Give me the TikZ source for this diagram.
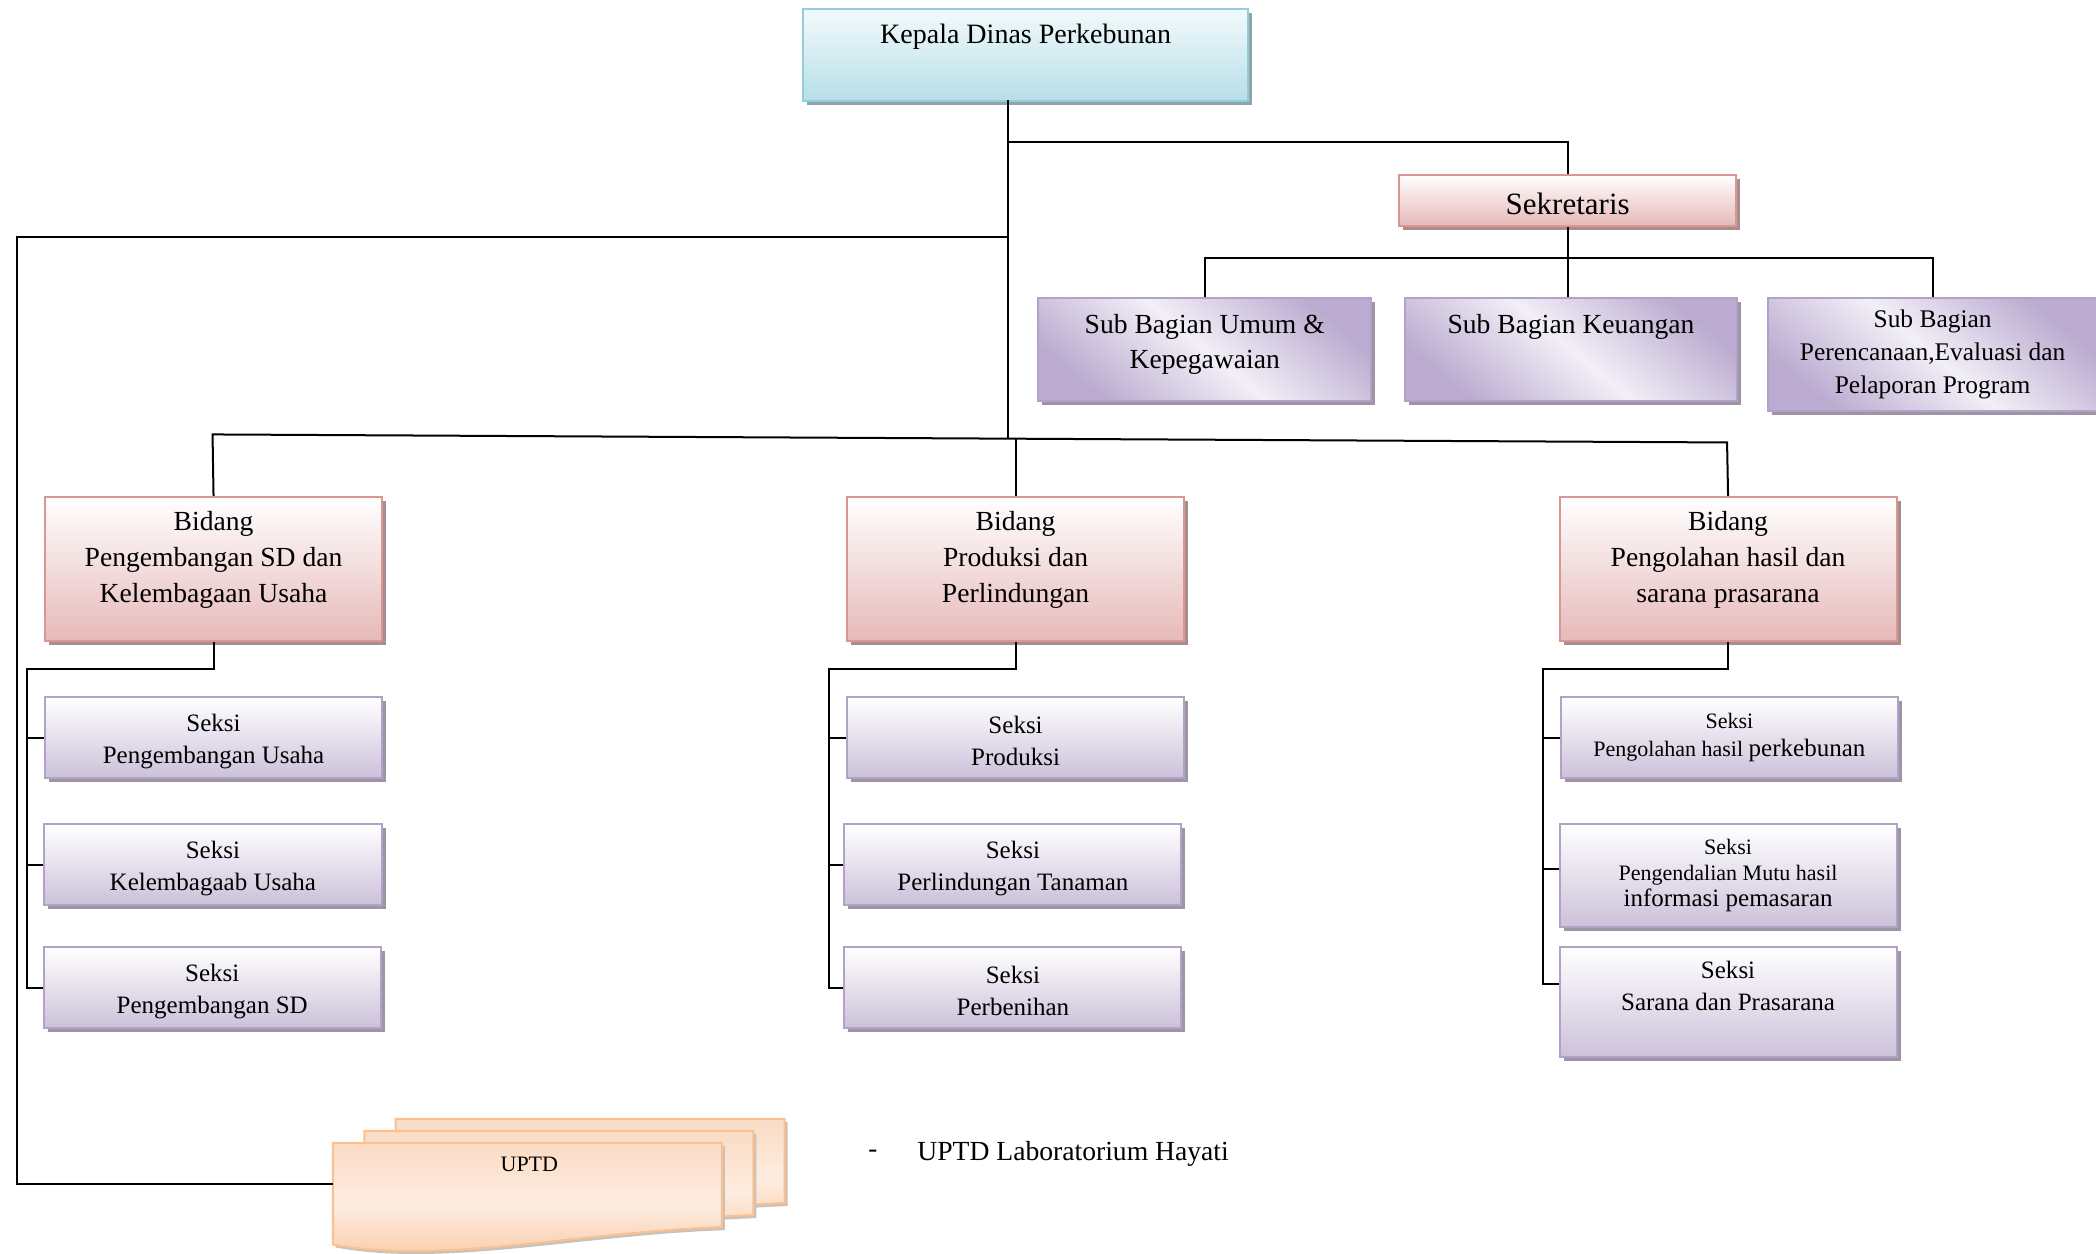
\documentclass[tikz,border=0pt]{standalone}
\usepackage{fontspec}
\setmainfont{Liberation Serif}
\usetikzlibrary{shadows}
\newcommand{\uu}{0.668pt}
\newcommand{\fz}[2]{\fontsize{#1}{#2}\selectfont}
\definecolor{kTop}{HTML}{F2FAFB}
\definecolor{kBot}{HTML}{B7DEE8}
\definecolor{kLine}{HTML}{93CDDD}
\definecolor{kSh}{HTML}{8EA5AC}
\definecolor{rBot}{HTML}{E6B9B8}
\definecolor{rLine}{HTML}{D99694}
\definecolor{rSh}{HTML}{A88D8C}
\definecolor{pBot}{HTML}{CCC1DA}
\definecolor{pLine}{HTML}{B3A2C7}
\definecolor{pSh}{HTML}{9D95A6}
\definecolor{pDark}{HTML}{BBABD0}
\definecolor{pLight}{HTML}{F2EFF7}
\definecolor{oLine}{HTML}{FAC090}
\definecolor{oTop}{HTML}{FBDCC5}
\definecolor{oMid}{HTML}{FDECDF}
\definecolor{oBot}{HTML}{F9C9A5}
\definecolor{oSh}{HTML}{C9C2BC}
\tikzset{
  box/.style={rectangle, line width=1pt, inner sep=2pt, align=center, anchor=north west},
  kbox/.style={box, draw=kLine, top color=kTop, bottom color=kBot,
    drop shadow={shadow xshift=2pt, shadow yshift=-2pt, fill=kSh, opacity=1}},
  rbox/.style={box, draw=rLine, top color=white, bottom color=rBot,
    drop shadow={shadow xshift=2pt, shadow yshift=-2pt, fill=rSh, opacity=1}},
  pbox/.style={box, draw=pLine, top color=white, bottom color=pBot,
    drop shadow={shadow xshift=2pt, shadow yshift=-2pt, fill=pSh, opacity=1}},
  sbox/.style={box, draw=pLine, top color=pDark, bottom color=pDark, middle color=pLight, shading angle=-40,
    drop shadow={shadow xshift=2pt, shadow yshift=-2pt, fill=pSh, opacity=1}},
  ushape/.style={draw=oLine, line width=1pt, top color=oTop, bottom color=oBot, middle color=oMid,
    drop shadow={shadow xshift=1.5pt, shadow yshift=-1.5pt, fill=oSh, opacity=1}},
  wire/.style={line width=1pt, black},
  big/.style={font=\fz{13.8}{18}},
  mid/.style={font=\fz{12.5}{16}},
  low/.style={text height=28.5pt},
}
\begin{document}
\begin{tikzpicture}[x=\uu, y=-\uu]
\useasboundingbox (0,0) rectangle (1568,938);

% top
\node[kbox, minimum width=333*\uu, minimum height=69*\uu, font=\fz{14}{17}, text depth=21pt] (kepala) at (600,6) {Kepala Dinas Perkebunan};
\node[rbox, minimum width=252*\uu, minimum height=38*\uu, font=\fz{15.5}{18}, text height=14.6pt, text depth=0pt] (sek) at (1046,130) {Sekretaris};

% sub bagian
\node[sbox, font=\fz{13.8}{17.4}, minimum width=249*\uu, minimum height=77*\uu, text depth=8pt] (sb1) at (776,222) {Sub Bagian Umum \&\\Kepegawaian};
\node[sbox, big, minimum width=249*\uu, minimum height=77*\uu, text depth=25pt] (sb2) at (1050,222) {Sub Bagian Keuangan};
\node[sbox, font=\fz{12.7}{16.4}, minimum width=246*\uu, minimum height=85*\uu] (sb3) at (1322,222) {Sub Bagian\\Perencanaan,Evaluasi dan\\Pelaporan Program};

% bidang
\node[rbox, big, minimum width=252*\uu, minimum height=108*\uu, text depth=12pt] (b1) at (33,371) {Bidang\\Pengembangan SD dan\\Kelembagaan Usaha};
\node[rbox, big, minimum width=252*\uu, minimum height=108*\uu, text depth=12pt] (b2) at (633,371) {Bidang\\Produksi dan\\Perlindungan};
\node[rbox, big, minimum width=252*\uu, minimum height=108*\uu, text depth=12pt] (b3) at (1166,371) {Bidang\\Pengolahan hasil dan\\sarana prasarana};

% seksi col 1
\node[pbox, mid, low, minimum width=252*\uu, minimum height=60*\uu] (s11) at (33,521) {Seksi\\Pengembangan Usaha};
\node[pbox, mid, low, minimum width=253*\uu, minimum height=60*\uu] (s12) at (32,616) {Seksi\\Kelembagaab Usaha};
\node[pbox, mid, low, minimum width=252*\uu, minimum height=60*\uu] (s13) at (32,708) {Seksi\\Pengembangan SD};
% seksi col 2
\node[pbox, mid, low, minimum width=252*\uu, minimum height=60*\uu] (s21) at (633,521) {Seksi\\Produksi};
\node[pbox, mid, low, minimum width=252*\uu, minimum height=60*\uu] (s22) at (631,616) {Seksi\\Perlindungan Tanaman};
\node[pbox, mid, low, minimum width=252*\uu, minimum height=60*\uu] (s23) at (631,708) {Seksi\\Perbenihan};
% seksi col 3
\node[pbox, font=\fz{11}{14}, minimum width=252*\uu, minimum height=60*\uu] (s31) at (1167,521) {Seksi\\Pengolahan hasil {\fz{12.5}{14}perkebunan}};
\node[pbox, font=\fz{11}{13}, minimum width=252*\uu, minimum height=77*\uu] (s32) at (1166,616) {Seksi\\Pengendalian Mutu hasil\\{\fz{12.5}{13}informasi pemasaran}};
\node[pbox, mid, minimum width=252*\uu, minimum height=82*\uu, text depth=16.5pt] (s33) at (1166,708) {Seksi\\Sarana dan Prasarana};

% UPTD stacked documents
\begin{scope}[shift={(47,-18)}]
\path[ushape] (249,855) -- (540,855) -- (540,918) .. controls (430,922) and (330,946) .. (249,931) -- cycle;
\end{scope}
\begin{scope}[shift={(23.5,-9)}]
\path[ushape] (249,855) -- (540,855) -- (540,918) .. controls (430,922) and (330,946) .. (249,931) -- cycle;
\end{scope}
\path[ushape] (249,855) -- (540,855) -- (540,918) .. controls (430,922) and (330,946) .. (249,931) -- cycle;
\coordinate (uptd) at (249,886);
\node[font=\fz{11}{13}] (uptdtxt) at (396,871) {UPTD};
\node[font=\fz{13.5}{16}] (dash) at (653,863) {-};
\node[font=\fz{13.8}{16}, anchor=west, inner sep=0pt] (lab) at (686,863) {UPTD Laboratorium Hayati};

% connectors
\coordinate (tTop) at (754,75);
\coordinate (tBot) at (754,328.3);
\coordinate (jS) at (754,106);
\coordinate (jL) at (754,177);
\coordinate (jSub) at (1175,193);
\coordinate (bL) at (159,325);
\coordinate (bR) at (1292,331);
\draw[wire] (tTop) -- (tBot);
\draw[wire] (jS) -| (sek.north);
\draw[wire] (sek.south) -- (sek.south |- sb2.north);
\draw[wire] (sb1.north) -- (sb1.north |- jSub) -- (sb3.north |- jSub) -- (sb3.north);
\draw[wire] (jL) -- (13,177) -- (13,886) -- (uptd);
\draw[wire] (b1.north) -- (bL) -- (bR) -- (b3.north);
\draw[wire] (b2.north) -- (b2.north |- tBot);

% column 1
\draw[wire] (b1.south) -- ++(0,20) -| ([xshift=-12*\uu]s13.west) -- (s13.west);
\draw[wire] ([xshift=-13*\uu]s11.west) -- (s11.west);
\draw[wire] ([xshift=-12*\uu]s12.west) -- (s12.west);
% column 2
\draw[wire] (b2.south) -- ++(0,20) -| ([xshift=-11*\uu]s23.west) -- (s23.west);
\draw[wire] ([xshift=-13*\uu]s21.west) -- (s21.west);
\draw[wire] ([xshift=-11*\uu]s22.west) -- (s22.west);
% column 3
\draw[wire] (b3.south) -- ++(0,20) -| ([xshift=-12*\uu, yshift=9.35pt]s33.west) -- ([yshift=9.35pt]s33.west);
\draw[wire] ([xshift=-13*\uu]s31.west) -- (s31.west);
\draw[wire] ([xshift=-12*\uu, yshift=3.5pt]s32.west) -- ([yshift=3.5pt]s32.west);
\end{tikzpicture}
\end{document}
